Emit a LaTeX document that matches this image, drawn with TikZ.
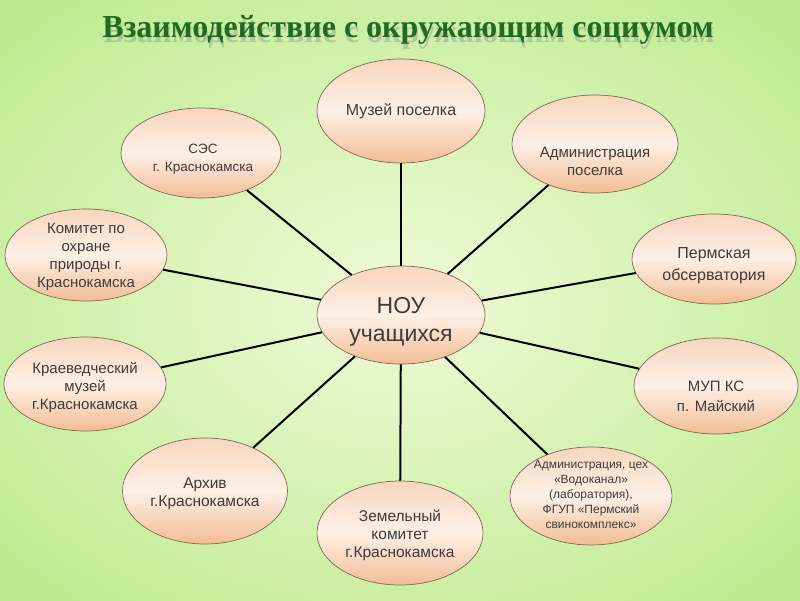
\documentclass[tikz,border=0pt]{standalone}
\usepackage{fontspec}
\setmainfont{Liberation Sans}
\newfontfamily\titlefont{Liberation Serif}
\usetikzlibrary{shapes.geometric,shadings}
\definecolor{bgin}{HTML}{F0FAD8}
\definecolor{bgout}{HTML}{BDEB90}
\definecolor{peachtop}{HTML}{F7D6BE}
\definecolor{peachmid}{HTML}{FDF0E6}
\definecolor{peachbot}{HTML}{F3BC94}
\definecolor{bordc}{HTML}{7A6A5A}
\definecolor{txtc}{HTML}{3C3C3C}
\definecolor{titlec}{HTML}{1F6B22}
\begin{document}
\begin{tikzpicture}[x=1pt,y=-1pt,
  bubble/.style={ellipse, draw=bordc, line width=0.7pt, top color=peachtop,
    bottom color=peachbot, middle color=peachmid, inner sep=0pt},
  btext/.style={text=txtc, align=center, inner sep=0pt},
  link/.style={line width=2pt, black}]
\useasboundingbox (0,0) rectangle (800,600);
\begin{scope}
\clip (0,0) rectangle (800,600);
\path[shading=radial, inner color=bgin, outer color=bgout] (-150,-100) rectangle (950,700);
\end{scope}
% title
\node[text=gray, opacity=0.35, font=\titlefont\bfseries\fontsize{32}{36}\selectfont] (tsh) at (409,35) {Взаимодействие с окружающим социумом};
\node[text=titlec, font=\titlefont\bfseries\fontsize{32}{36}\selectfont] (title) at (408,30) {Взаимодействие с окружающим социумом};
% bubbles
\node[bubble, minimum width=168, minimum height=98] (c) at (401,315) {};
\node[bubble, minimum width=168, minimum height=104] (muz) at (401,111) {};
\node[bubble, minimum width=160, minimum height=90] (ses) at (201,153) {};
\node[bubble, minimum width=166, minimum height=98] (adm) at (595,144) {};
\node[bubble, minimum width=162, minimum height=92] (kom) at (86,255) {};
\node[bubble, minimum width=164, minimum height=90] (perm) at (714,259) {};
\node[bubble, minimum width=162, minimum height=94] (kray) at (85,384) {};
\node[bubble, minimum width=164, minimum height=96] (mup) at (716,386) {};
\node[bubble, minimum width=165, minimum height=106] (arch) at (205,491) {};
\node[bubble, minimum width=166, minimum height=104] (zem) at (400,533) {};
\node[bubble, minimum width=162, minimum height=98] (vod) at (591,496) {};
% connectors
\foreach \b in {muz,ses,adm,kom,perm,kray,mup,arch,zem,vod}
  \draw[link] (c) -- (\b);
% texts
\node[btext, font=\fontsize{23}{28}\selectfont] (tc) at (401,322) {НОУ\\учащихся};
\node[btext, font=\fontsize{16}{18}\selectfont] (tmuz) at (401,111) {Музей поселка};
\node[btext, font=\fontsize{13.5}{18}\selectfont] (tses) at (203,159) {СЭС\\г. Краснокамска};
\node[btext, font=\fontsize{15}{18}\selectfont] (tadm) at (595,161) {Администрация\\поселка};
\node[btext, font=\fontsize{15}{18}\selectfont] (tkom) at (86,257) {Комитет по\\охране\\природы г.\\Краснокамска};
\node[btext, font=\fontsize{16}{22}\selectfont] (tperm) at (714,266) {Пермская\\обсерватория};
\node[btext, font=\fontsize{15}{20}\selectfont] (tmup) at (716,396) {МУП КС\\п. Майский};
\node[btext, font=\fontsize{15}{18}\selectfont] (tkray) at (85,387) {Краеведческий\\музей\\г.Краснокамска};
\node[btext, font=\fontsize{15.5}{18}\selectfont] (tarch) at (205,494) {Архив\\г.Краснокамска};
\node[btext, font=\fontsize{15.5}{18}\selectfont] (tzem) at (400,535) {Земельный\\комитет\\г.Краснокамска};
\node[btext, font=\fontsize{12}{15}\selectfont] (tvod) at (591,494) {Администрация, цех\\«Водоканал»\\(лаборатория),\\ФГУП «Пермский\\свинокомплекс»};
\end{tikzpicture}
\end{document}
